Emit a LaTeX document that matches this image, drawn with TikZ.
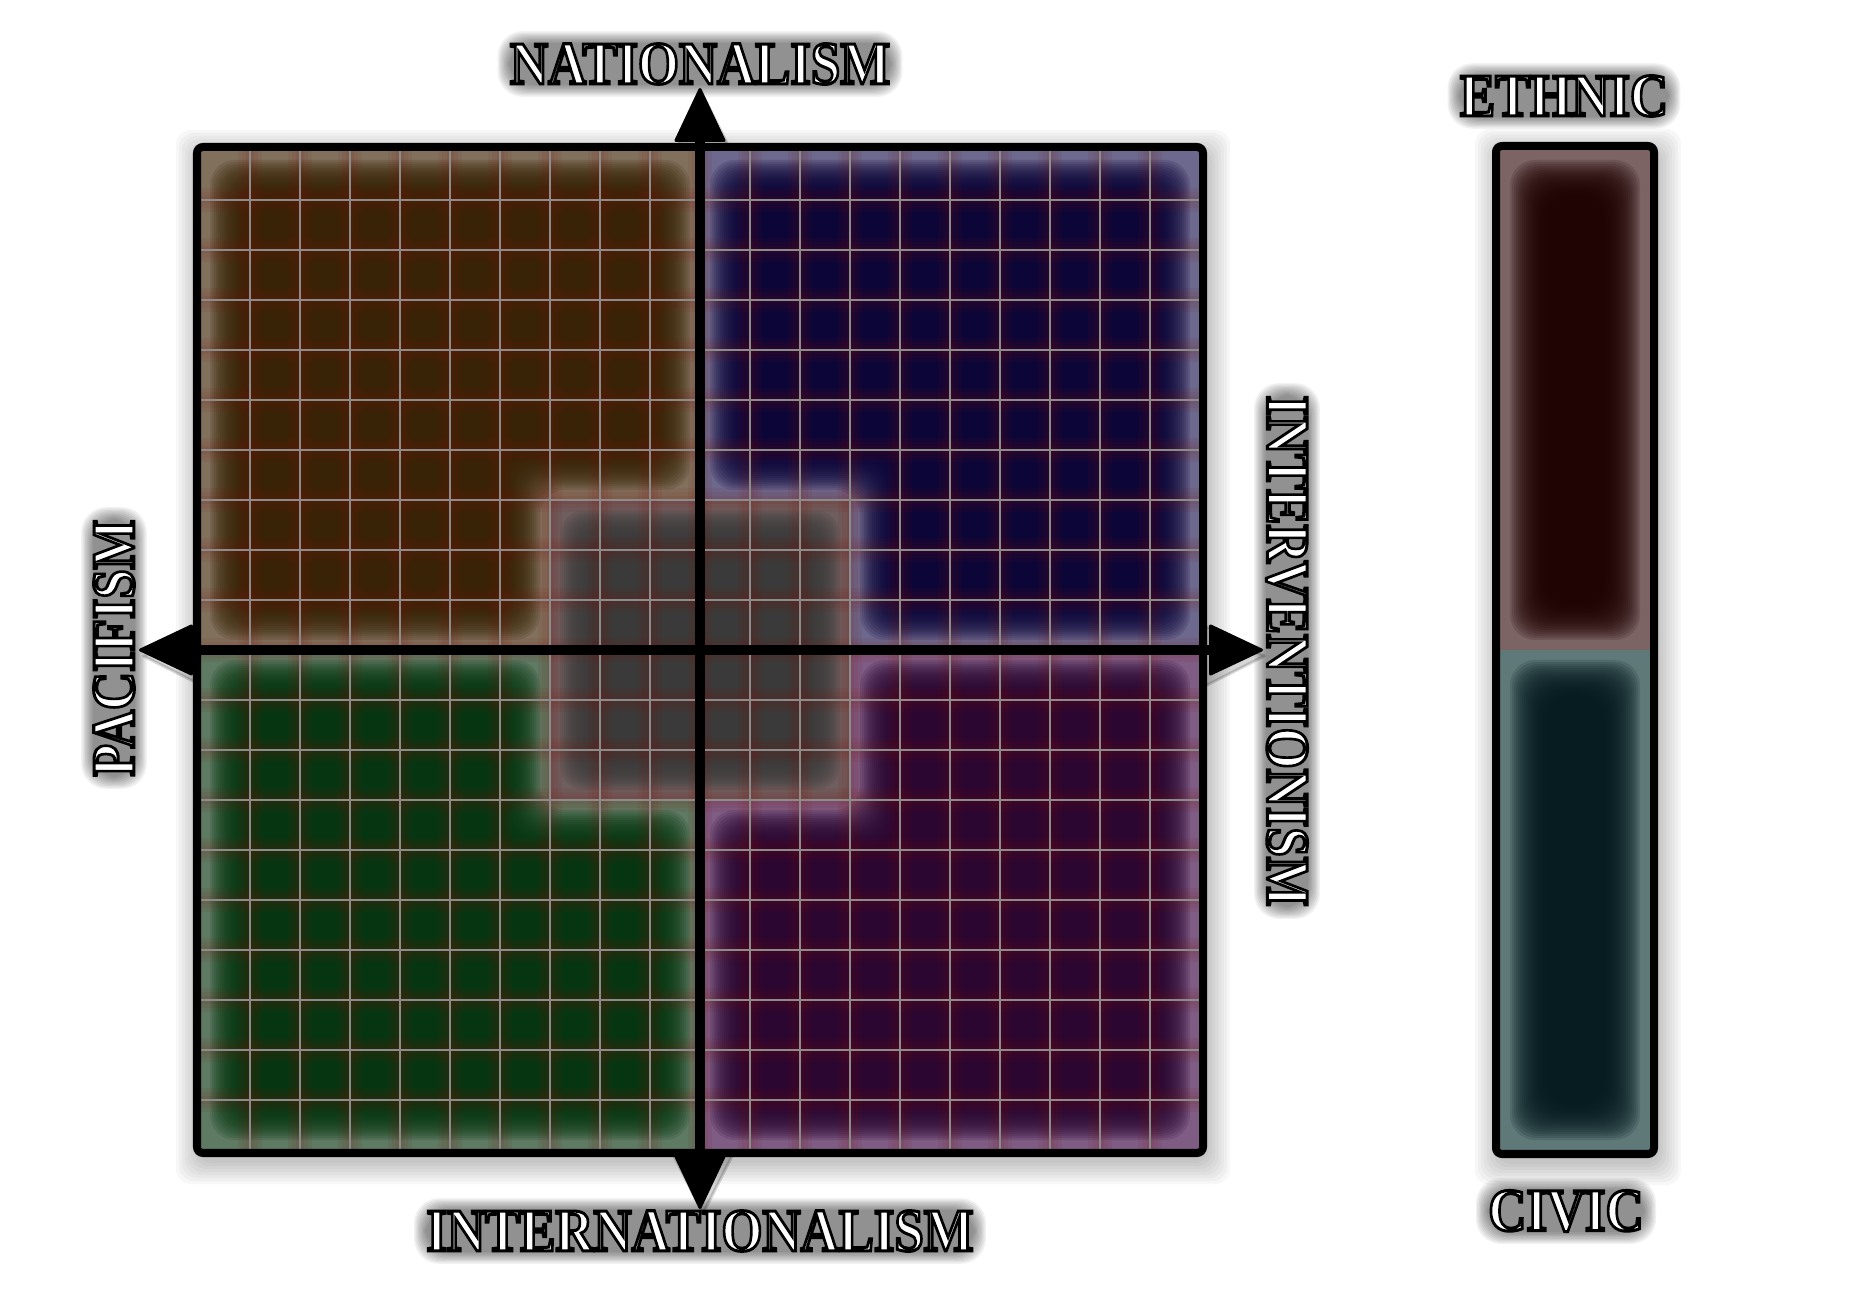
\documentclass[tikz,border=0pt]{standalone}
\usepackage{fontspec}
\usetikzlibrary{arrows.meta}
\setmainfont{Liberation Serif}
\newfontfamily\engravefont{Liberation Serif}[BoldFeatures={FakeBold=5}]
\definecolor{tlrim}{RGB}{128,112,92}
\definecolor{tlcore}{RGB}{56,34,4}
\definecolor{trrim}{RGB}{108,104,142}
\definecolor{trcore}{RGB}{10,2,54}
\definecolor{blrim}{RGB}{94,122,98}
\definecolor{blcore}{RGB}{4,54,16}
\definecolor{brrim}{RGB}{126,92,132}
\definecolor{brcore}{RGB}{40,4,48}
\definecolor{cenrim}{RGB}{110,94,94}
\definecolor{cencore}{RGB}{58,58,58}
\definecolor{ethrim}{RGB}{124,100,100}
\definecolor{ethcore}{RGB}{30,0,0}
\definecolor{civrim}{RGB}{95,120,120}
\definecolor{civcore}{RGB}{4,26,30}
\definecolor{gridgray}{RGB}{140,140,140}
\definecolor{gridglow}{RGB}{130,20,10}
\pgfdeclarelayer{background}
\pgfsetlayers{background,main}
\newcommand{\engraved}[1]{\scalebox{1}[1.15]{\engravefont\bfseries\color{white}\pgfsetstrokecolor{black}#1}}

\begin{document}
\begin{tikzpicture}[
    x=0.01cm, y=-0.01cm,
    axislabel/.style={font=\fontsize{15}{18}\selectfont, inner sep=0pt},
    halolayer/.style={fill=black, opacity=0.055, rounded corners=2.5mm},
    glowlayer/.style={opacity=0.14, rounded corners=2.5mm},
    shadowlayer/.style={fill=black, opacity=0.03, rounded corners=1.5mm},
    boxframe/.style={draw=black, line width=0.8mm, rounded corners=0.6mm},
    gridline/.style={draw=gridgray, line width=0.12mm},
    gridhalo/.style={draw=gridglow, opacity=0.07},
    axisline/.style={draw=black, line width=1mm,
        {Triangle[width=5.2mm, length=5.6mm, round, line width=0.3mm]}-{Triangle[width=5.2mm, length=5.6mm, round, line width=0.3mm]}},
    axisshadow/.style={draw=black, opacity=0.16, line width=1.6mm,
        transform canvas={shift={(0.03cm,-0.06cm)}},
        {Triangle[width=6.4mm, length=6.4mm, round, line width=0.3mm]}-{Triangle[width=6.4mm, length=6.4mm, round, line width=0.3mm]}}
]
    \useasboundingbox (0,0) rectangle (1850,1300);

    % Axis ends
    \coordinate (nat) at (700,88);
    \coordinate (intl) at (700,1209);
    \coordinate (pac) at (139,650);
    \coordinate (intv) at (1263,650);

    % Shadows
    \foreach \s in {3,6,...,24} {
        \fill[shadowlayer] ({197-\s+3},{147-\s+7}) rectangle ({1203+\s+3},{1153+\s+7});
        \fill[shadowlayer] ({1496-\s+3},{146-\s+7}) rectangle ({1654+\s+3},{1154+\s+7});
    }
    \draw[axisshadow] (pac) -- (intv);
    \draw[axisshadow] (nat) -- (intl);

    % Quadrants
    \fill[tlrim] (200,150) rectangle (700,650);
    \foreach \d in {10,12,...,46}
        \fill[tlcore, glowlayer] ({200+\d},{150+\d}) -- ({700-\d},{150+\d}) -- ({700-\d},{500-\d})
            -- ({550-\d},{500-\d}) -- ({550-\d},{650-\d}) -- ({200+\d},{650-\d}) -- cycle;
    \fill[trrim] (700,150) rectangle (1200,650);
    \foreach \d in {10,12,...,46}
        \fill[trcore, glowlayer] ({700+\d},{150+\d}) -- ({1200-\d},{150+\d}) -- ({1200-\d},{650-\d})
            -- ({850+\d},{650-\d}) -- ({850+\d},{500-\d}) -- ({700+\d},{500-\d}) -- cycle;
    \fill[blrim] (200,650) rectangle (700,1150);
    \foreach \d in {10,12,...,46}
        \fill[blcore, glowlayer] ({200+\d},{650+\d}) -- ({550-\d},{650+\d}) -- ({550-\d},{800+\d})
            -- ({700-\d},{800+\d}) -- ({700-\d},{1150-\d}) -- ({200+\d},{1150-\d}) -- cycle;
    \fill[brrim] (700,650) rectangle (1200,1150);
    \foreach \d in {10,12,...,46}
        \fill[brcore, glowlayer] ({850+\d},{650+\d}) -- ({1200-\d},{650+\d}) -- ({1200-\d},{1150-\d})
            -- ({700+\d},{1150-\d}) -- ({700+\d},{800+\d}) -- ({850+\d},{800+\d}) -- cycle;

    % Centre square
    \fill[cenrim] (550,500) rectangle (850,800);
    \foreach \d in {10,12,...,46}
        \fill[cencore, glowlayer] ({550+\d},{500+\d}) rectangle ({850-\d},{800-\d});

    % Grid
    \foreach \w in {2.4mm,1.5mm,0.7mm}
        \foreach \g in {250,300,...,1150} {
            \draw[gridhalo, line width=\w] (\g,150) -- (\g,1150);
            \draw[gridhalo, line width=\w] (200,{\g-50}) -- (1200,{\g-50});
        }
    \foreach \g in {250,300,...,1150} {
        \draw[gridline] (\g,150) -- (\g,1150);
        \draw[gridline] (200,{\g-50}) -- (1200,{\g-50});
    }

    % Axes
    \draw[boxframe] (197,147) rectangle (1203,1153);
    \draw[axisline] (pac) -- (intv);
    \draw[axisline] (nat) -- (intl);

    % Ethnic / civic bar
    \fill[ethrim] (1500,150) rectangle (1650,650);
    \foreach \d in {10,12,...,46}
        \fill[ethcore, glowlayer] ({1500+\d},{150+\d}) rectangle ({1650-\d},{650-\d});
    \fill[civrim] (1500,650) rectangle (1650,1150);
    \foreach \d in {10,12,...,46}
        \fill[civcore, glowlayer] ({1500+\d},{650+\d}) rectangle ({1650-\d},{1150-\d});
    \draw[boxframe] (1496,146) rectangle (1654,1154);

    % Labels
    \node[axislabel] (natlab) at (700,64) {\engraved{NATIONALISM}};
    \node[axislabel] (intllab) at (700,1231) {\engraved{INTERNATIONALISM}};
    \node[axislabel, rotate=90] (paclab) at (114,648) {\engraved{PACIFISM}};
    \node[axislabel, rotate=-90] (intvlab) at (1287,651) {\engraved{INTERVENTIONISM}};
    \node[axislabel] (ethlab) at (1564,96) {\engraved{ETHNIC}};
    \node[axislabel] (civlab) at (1566,1211) {\engraved{CIVIC}};

    % Label halos
    \begin{pgfonlayer}{background}
        \foreach \n/\a/\b in {natlab/south west/north east, intllab/south west/north east,
                ethlab/south west/north east, civlab/south west/north east,
                paclab/north west/south east, intvlab/south east/north west}
            \foreach \s in {0,...,9}
                \fill[halolayer] ([xshift=-\s*0.13mm, yshift=-\s*0.13mm]\n.\a)
                    rectangle ([xshift=\s*0.13mm, yshift=\s*0.13mm]\n.\b);
    \end{pgfonlayer}
\end{tikzpicture}
\end{document}
